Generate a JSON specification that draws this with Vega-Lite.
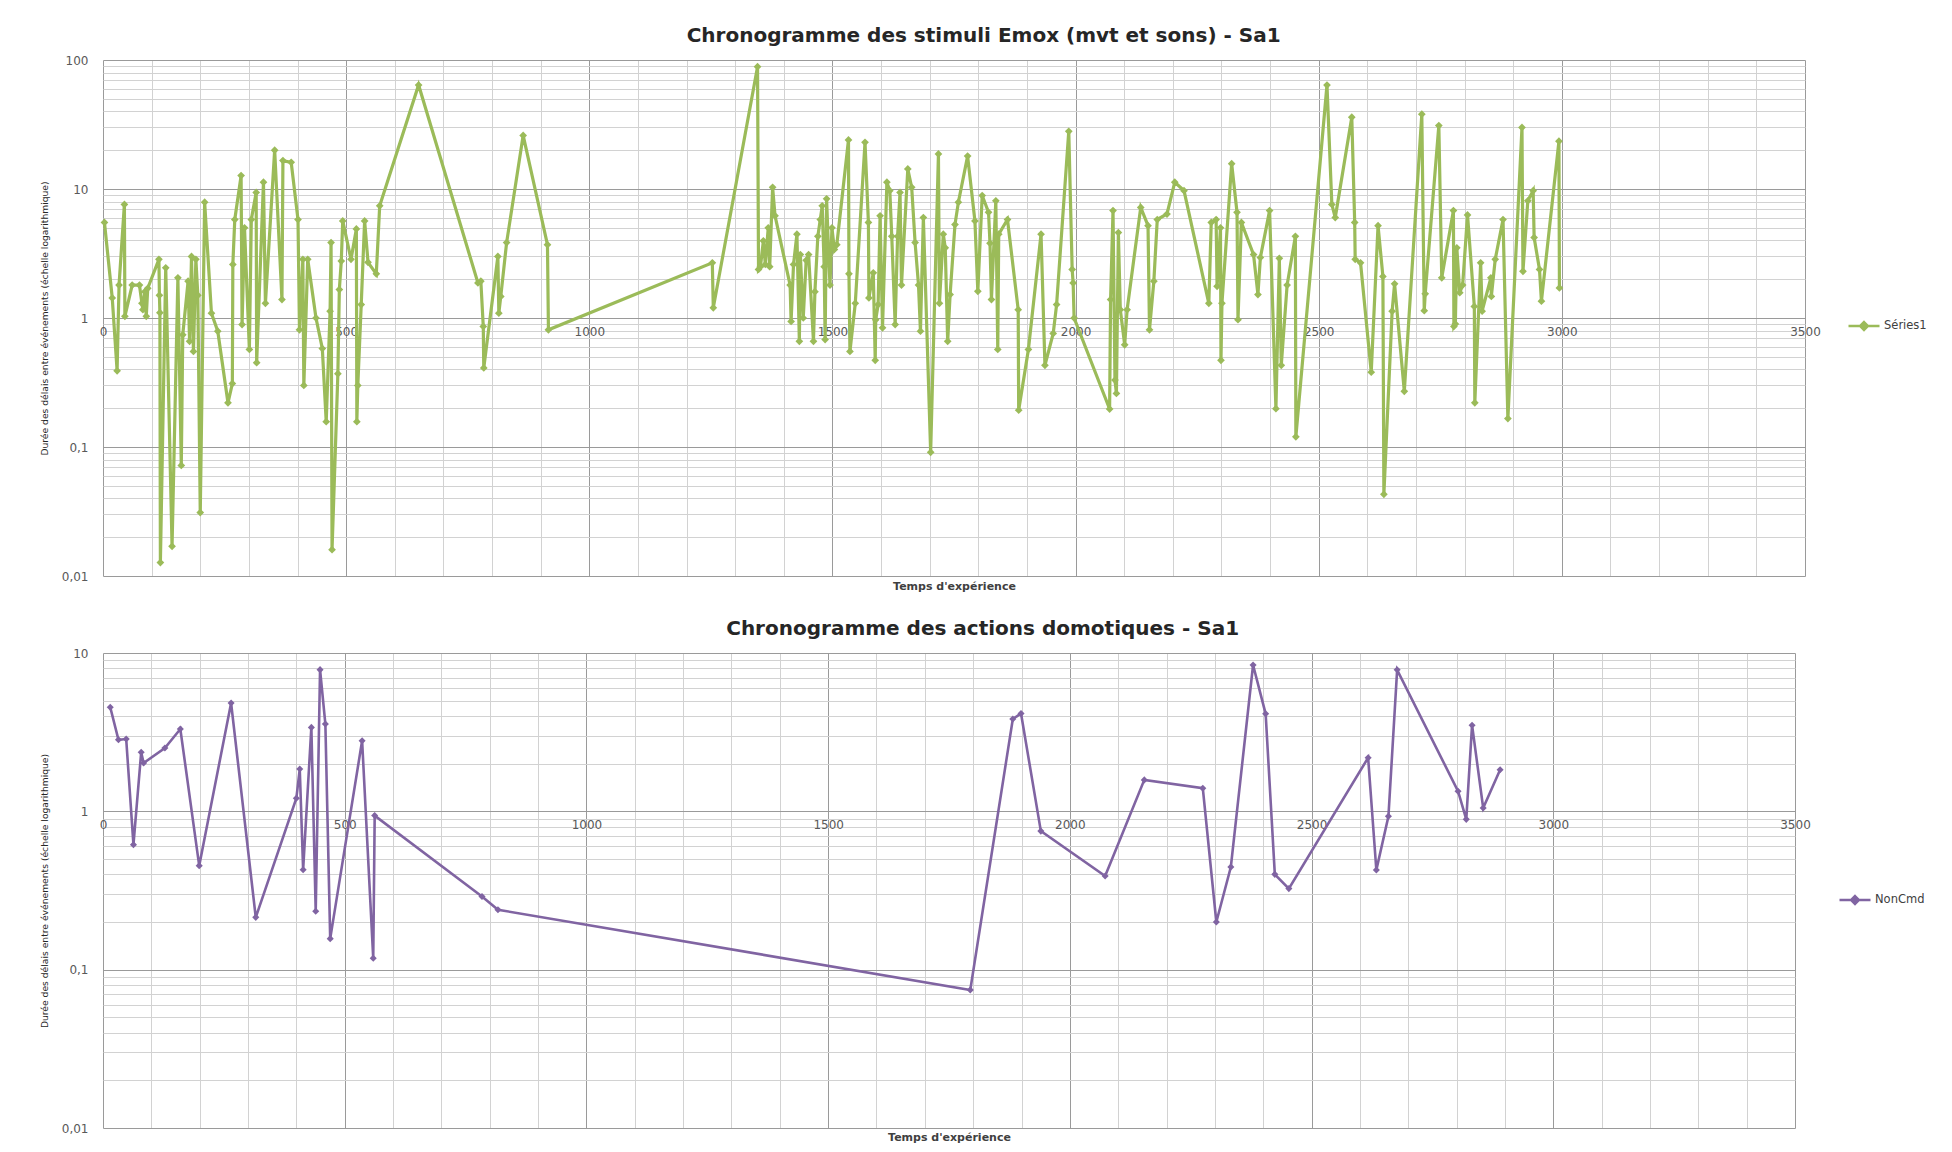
{
  "$schema": "https://vega.github.io/schema/vega-lite/v6.json",
  "background": "white",
  "padding": {"left": 40, "top": 26, "right": 20, "bottom": 4},
  "spacing": 28,
  "config": {
    "view": {"stroke": null},
    "font": "DejaVu Sans",
    "legend": {"padding": 0}
  },
  "datasets": {
    "emox": [
      {"t":3,"v":5.5},{"t":19,"v":1.43},{"t":29,"v":0.39},{"t":33,"v":1.8},{"t":44,"v":7.6},{"t":45,"v":1.03},{"t":60,"v":1.8},{"t":75,"v":1.8},{"t":80,"v":1.3},{"t":82,"v":1.16},{"t":86,"v":1.6},{"t":89,"v":1.03},{"t":92,"v":1.7},{"t":115,"v":2.85},{"t":116,"v":1.5},{"t":117,"v":1.1},{"t":118,"v":0.0127},{"t":129,"v":2.45},{"t":142,"v":0.017},{"t":154,"v":2.05},{"t":161,"v":0.072},{"t":164,"v":0.74},{"t":175,"v":1.93},{"t":178,"v":0.66},{"t":182,"v":3.0},{"t":186,"v":0.55},{"t":191,"v":2.85},{"t":195,"v":1.5},{"t":200,"v":0.031},{"t":209,"v":7.9},{"t":223,"v":1.09},{"t":236,"v":0.79},{"t":257,"v":0.22},{"t":266,"v":0.31},{"t":267,"v":2.6},{"t":271,"v":5.8},{"t":284,"v":12.7},{"t":286,"v":0.89},{"t":291,"v":5.0},{"t":301,"v":0.57},{"t":305,"v":5.8},{"t":315,"v":9.4},{"t":316,"v":0.45},{"t":330,"v":11.3},{"t":334,"v":1.3},{"t":353,"v":20},{"t":368,"v":1.39},{"t":370,"v":16.6},{"t":387,"v":16.1},{"t":401,"v":5.8},{"t":404,"v":0.81},{"t":411,"v":2.85},{"t":413,"v":0.30},{"t":421,"v":2.85},{"t":438,"v":1.0},{"t":451,"v":0.58},{"t":459,"v":0.157},{"t":467,"v":1.13},{"t":469,"v":3.84},{"t":471,"v":0.016},{"t":483,"v":0.37},{"t":486,"v":1.66},{"t":490,"v":2.76},{"t":493,"v":5.66},{"t":510,"v":2.85},{"t":521,"v":4.9},{"t":522,"v":0.157},{"t":524,"v":0.30},{"t":531,"v":1.27},{"t":538,"v":5.66},{"t":545,"v":2.7},{"t":562,"v":2.2},{"t":569,"v":7.4},{"t":649,"v":64},{"t":771,"v":1.87},{"t":777,"v":1.93},{"t":782,"v":0.86},{"t":783,"v":0.41},{"t":812,"v":3.0},{"t":814,"v":1.09},{"t":818,"v":1.47},{"t":830,"v":3.84},{"t":864,"v":26},{"t":914,"v":3.7},{"t":916,"v":0.81},{"t":1253,"v":2.68},{"t":1255,"v":1.2},{"t":1346,"v":88.7},{"t":1348,"v":2.38},{"t":1352,"v":2.5},{"t":1358,"v":3.97},{"t":1362,"v":2.6},{"t":1368,"v":5.0},{"t":1371,"v":2.5},{"t":1377,"v":10.3},{"t":1382,"v":6.2},{"t":1413,"v":1.8},{"t":1415,"v":0.94},{"t":1420,"v":2.6},{"t":1427,"v":4.46},{"t":1432,"v":0.66},{"t":1434,"v":3.1},{"t":1440,"v":1.0},{"t":1446,"v":2.8},{"t":1451,"v":3.1},{"t":1461,"v":0.66},{"t":1464,"v":1.6},{"t":1470,"v":4.3},{"t":1475,"v":5.8},{"t":1479,"v":7.4},{"t":1483,"v":2.5},{"t":1485,"v":0.68},{"t":1488,"v":8.4},{"t":1492,"v":3.3},{"t":1495,"v":1.8},{"t":1499,"v":5.0},{"t":1504,"v":3.4},{"t":1509,"v":3.7},{"t":1533,"v":24},{"t":1534,"v":2.2},{"t":1536,"v":0.55},{"t":1547,"v":1.3},{"t":1567,"v":23},{"t":1574,"v":5.5},{"t":1575,"v":1.43},{"t":1584,"v":2.24},{"t":1588,"v":0.47},{"t":1589,"v":0.97},{"t":1594,"v":1.27},{"t":1598,"v":6.2},{"t":1603,"v":0.84},{"t":1612,"v":11.3},{"t":1618,"v":9.7},{"t":1622,"v":4.3},{"t":1629,"v":0.89},{"t":1634,"v":4.3},{"t":1639,"v":9.4},{"t":1642,"v":1.8},{"t":1655,"v":14.3},{"t":1663,"v":10.3},{"t":1670,"v":3.84},{"t":1677,"v":1.8},{"t":1681,"v":0.79},{"t":1687,"v":6.0},{"t":1702,"v":0.091},{"t":1718,"v":18.7},{"t":1720,"v":1.3},{"t":1728,"v":4.46},{"t":1732,"v":3.5},{"t":1737,"v":0.66},{"t":1742,"v":1.52},{"t":1752,"v":5.3},{"t":1759,"v":7.9},{"t":1778,"v":18},{"t":1793,"v":5.66},{"t":1799,"v":1.61},{"t":1808,"v":8.9},{"t":1821,"v":6.6},{"t":1824,"v":3.8},{"t":1827,"v":1.39},{"t":1836,"v":8.1},{"t":1840,"v":0.57},{"t":1842,"v":4.46},{"t":1860,"v":5.8},{"t":1882,"v":1.16},{"t":1883,"v":0.193},{"t":1903,"v":0.57},{"t":1929,"v":4.46},{"t":1937,"v":0.43},{"t":1954,"v":0.76},{"t":1961,"v":1.27},{"t":1986,"v":28},{"t":1993,"v":2.38},{"t":1995,"v":1.87},{"t":1997,"v":1.0},{"t":2070,"v":0.197},{"t":2072,"v":1.39},{"t":2077,"v":6.8},{"t":2081,"v":0.33},{"t":2084,"v":0.26},{"t":2088,"v":4.6},{"t":2092,"v":1.16},{"t":2101,"v":0.62},{"t":2106,"v":1.16},{"t":2134,"v":7.2},{"t":2149,"v":5.2},{"t":2152,"v":0.81},{"t":2161,"v":1.93},{"t":2168,"v":5.8},{"t":2188,"v":6.4},{"t":2204,"v":11.3},{"t":2223,"v":9.7},{"t":2274,"v":1.3},{"t":2279,"v":5.5},{"t":2289,"v":5.8},{"t":2291,"v":1.76},{"t":2298,"v":5.0},{"t":2299,"v":0.47},{"t":2301,"v":1.3},{"t":2321,"v":15.7},{"t":2332,"v":6.6},{"t":2334,"v":0.97},{"t":2341,"v":5.5},{"t":2366,"v":3.1},{"t":2375,"v":1.52},{"t":2380,"v":2.94},{"t":2399,"v":6.8},{"t":2412,"v":0.198},{"t":2419,"v":2.9},{"t":2423,"v":0.43},{"t":2435,"v":1.8},{"t":2452,"v":4.3},{"t":2453,"v":0.12},{"t":2517,"v":64},{"t":2527,"v":7.6},{"t":2534,"v":6.0},{"t":2568,"v":36},{"t":2574,"v":5.5},{"t":2575,"v":2.85},{"t":2586,"v":2.68},{"t":2608,"v":0.38},{"t":2622,"v":5.2},{"t":2632,"v":2.1},{"t":2634,"v":0.043},{"t":2651,"v":1.13},{"t":2656,"v":1.84},{"t":2676,"v":0.27},{"t":2712,"v":38},{"t":2717,"v":1.14},{"t":2719,"v":1.54},{"t":2747,"v":31},{"t":2753,"v":2.05},{"t":2777,"v":6.8},{"t":2778,"v":0.86},{"t":2781,"v":0.9},{"t":2784,"v":3.5},{"t":2790,"v":1.57},{"t":2796,"v":1.8},{"t":2806,"v":6.3},{"t":2820,"v":1.23},{"t":2821,"v":0.22},{"t":2833,"v":2.68},{"t":2836,"v":1.13},{"t":2854,"v":2.05},{"t":2855,"v":1.47},{"t":2863,"v":2.85},{"t":2879,"v":5.8},{"t":2889,"v":0.166},{"t":2918,"v":30},{"t":2920,"v":2.3},{"t":2930,"v":8.1},{"t":2941,"v":9.7},{"t":2943,"v":4.2},{"t":2954,"v":2.38},{"t":2958,"v":1.35},{"t":2994,"v":23.5},{"t":2995,"v":1.71}
    ],
    "domo": [
      {"t":15,"v":4.54},{"t":32,"v":2.83},{"t":48,"v":2.86},{"t":63,"v":0.616},{"t":79,"v":2.36},{"t":84,"v":2.02},{"t":128,"v":2.51},{"t":160,"v":3.31},{"t":199,"v":0.454},{"t":265,"v":4.83},{"t":316,"v":0.214},{"t":400,"v":1.21},{"t":407,"v":1.85},{"t":414,"v":0.428},{"t":431,"v":3.39},{"t":440,"v":0.234},{"t":449,"v":7.85},{"t":460,"v":3.56},{"t":470,"v":0.157},{"t":536,"v":2.79},{"t":559,"v":0.118},{"t":562,"v":0.94},{"t":784,"v":0.29},{"t":817,"v":0.239},{"t":1794,"v":0.0745},{"t":1882,"v":3.83},{"t":1899,"v":4.15},{"t":1940,"v":0.75},{"t":2073,"v":0.39},{"t":2154,"v":1.58},{"t":2275,"v":1.40},{"t":2303,"v":0.2},{"t":2333,"v":0.445},{"t":2379,"v":8.4},{"t":2405,"v":4.13},{"t":2424,"v":0.40},{"t":2453,"v":0.325},{"t":2617,"v":2.18},{"t":2634,"v":0.426},{"t":2659,"v":0.93},{"t":2677,"v":7.83},{"t":2803,"v":1.34},{"t":2820,"v":0.89},{"t":2832,"v":3.5},{"t":2855,"v":1.05},{"t":2890,"v":1.83}
    ]
  },
  "vconcat": [
    {
      "width": 1702,
      "height": 516,
      "title": {"text": "Chronogramme des stimuli Emox (mvt et sons) - Sa1", "frame": "bounds", "anchor": "middle", "font": "DejaVu Sans", "fontSize": 20, "fontWeight": "bold", "color": "#262626", "offset": 8},
      "data": {"name": "emox"},
      "encoding": {
        "x": {
          "field": "t", "type": "quantitative",
          "scale": {"domain": [0, 3500], "nice": false, "zero": false},
          "axis": {
            "values": [0,100,200,300,400,500,600,700,800,900,1000,1100,1200,1300,1400,1500,1600,1700,1800,1900,2000,2100,2200,2300,2400,2500,2600,2700,2800,2900,3000,3100,3200,3300,3400,3500],
            "labelExpr": "datum.value % 500 === 0 ? '' + datum.value : ''",
            "offset": -258,
            "domain": false, "ticks": false,
            "labelPadding": 8, "labelFont": "DejaVu Sans", "labelFontSize": 12, "labelColor": "#595959",
            "labelFlush": false, "labelOverlap": false,
            "grid": true, "gridWidth": 1,
            "gridColor": {"condition": {"test": "datum.value % 500 === 0", "value": "#9a9a9a"}, "value": "#d2d2d2"},
            "title": "Temps d'expérience", "titleFont": "DejaVu Sans", "titleFontSize": 11, "titleFontWeight": "bold", "titleColor": "#404040",
            "titleY": 262
          }
        },
        "y": {
          "field": "v", "type": "quantitative",
          "scale": {"type": "log", "domain": [0.01, 100], "nice": false},
          "axis": {
            "values": [0.01,0.02,0.03,0.04,0.05,0.06,0.07,0.08,0.09,0.1,0.2,0.3,0.4,0.5,0.6,0.7,0.8,0.9,1,2,3,4,5,6,7,8,9,10,20,30,40,50,60,70,80,90,100],
            "labelExpr": "datum.value == 0.01 ? '0,01' : datum.value == 0.1 ? '0,1' : (datum.value == 1 || datum.value == 10 || datum.value == 100) ? '' + datum.value : ''",
            "domain": false, "ticks": false,
            "labelPadding": 15, "labelFont": "DejaVu Sans", "labelFontSize": 12, "labelColor": "#595959",
            "labelFlush": false, "labelOverlap": false,
            "grid": true, "gridWidth": 1,
            "gridColor": {"condition": {"test": "datum.value == 0.01 || datum.value == 0.1 || datum.value == 1 || datum.value == 10 || datum.value == 100", "value": "#9a9a9a"}, "value": "#d2d2d2"},
            "title": "Durée des délais entre événements (échelle logarithmique)", "titleFont": "DejaVu Sans", "titleFontSize": 9.2, "titleFontWeight": "normal", "titleColor": "#262626", "titlePadding": 12
          }
        },
        "color": {
          "datum": "Séries1",
          "scale": {"range": ["#9BBB59"]},
          "legend": {
            "title": null, "orient": "none", "legendX": 1744, "legendY": 249,
            "symbolType": "M-1,0H1M0,-0.25L0.25,0L0,0.25L-0.25,0Z",
            "symbolSize": 961, "symbolStrokeWidth": 2.5, "symbolFillColor": "#9BBB59", "symbolStrokeColor": "#9BBB59",
            "labelFont": "DejaVu Sans", "labelFontSize": 11.5, "labelColor": "#404040", "labelOffset": 3
          }
        }
      },
      "layer": [
        {"mark": {"type": "line", "strokeWidth": 3.2}},
        {"mark": {"type": "point", "shape": "diamond", "filled": true, "size": 60, "opacity": 1}}
      ]
    },
    {
      "width": 1692,
      "height": 475,
      "title": {"text": "Chronogramme des actions domotiques - Sa1", "frame": "bounds", "anchor": "middle", "font": "DejaVu Sans", "fontSize": 20, "fontWeight": "bold", "color": "#262626", "offset": 8},
      "data": {"name": "domo"},
      "encoding": {
        "x": {
          "field": "t", "type": "quantitative",
          "scale": {"domain": [0, 3500], "nice": false, "zero": false},
          "axis": {
            "values": [0,100,200,300,400,500,600,700,800,900,1000,1100,1200,1300,1400,1500,1600,1700,1800,1900,2000,2100,2200,2300,2400,2500,2600,2700,2800,2900,3000,3100,3200,3300,3400,3500],
            "labelExpr": "datum.value % 500 === 0 ? '' + datum.value : ''",
            "offset": -317,
            "domain": false, "ticks": false,
            "labelPadding": 8, "labelFont": "DejaVu Sans", "labelFontSize": 12, "labelColor": "#595959",
            "labelFlush": false, "labelOverlap": false,
            "grid": true, "gridWidth": 1,
            "gridColor": {"condition": {"test": "datum.value % 500 === 0", "value": "#9a9a9a"}, "value": "#d2d2d2"},
            "title": "Temps d'expérience", "titleFont": "DejaVu Sans", "titleFontSize": 11, "titleFontWeight": "bold", "titleColor": "#404040",
            "titleY": 320
          }
        },
        "y": {
          "field": "v", "type": "quantitative",
          "scale": {"type": "log", "domain": [0.01, 10], "nice": false},
          "axis": {
            "values": [0.01,0.02,0.03,0.04,0.05,0.06,0.07,0.08,0.09,0.1,0.2,0.3,0.4,0.5,0.6,0.7,0.8,0.9,1,2,3,4,5,6,7,8,9,10],
            "labelExpr": "datum.value == 0.01 ? '0,01' : datum.value == 0.1 ? '0,1' : (datum.value == 1 || datum.value == 10) ? '' + datum.value : ''",
            "domain": false, "ticks": false,
            "labelPadding": 15, "labelFont": "DejaVu Sans", "labelFontSize": 12, "labelColor": "#595959",
            "labelFlush": false, "labelOverlap": false,
            "grid": true, "gridWidth": 1,
            "gridColor": {"condition": {"test": "datum.value == 0.01 || datum.value == 0.1 || datum.value == 1 || datum.value == 10", "value": "#9a9a9a"}, "value": "#d2d2d2"},
            "title": "Durée des délais entre événements (échelle logarithmique)", "titleFont": "DejaVu Sans", "titleFontSize": 9.2, "titleFontWeight": "normal", "titleColor": "#262626", "titlePadding": 12
          }
        },
        "color": {
          "datum": "NonCmd",
          "scale": {"range": ["#8064A2"]},
          "legend": {
            "title": null, "orient": "none", "legendX": 1735, "legendY": 230,
            "symbolType": "M-1,0H1M0,-0.25L0.25,0L0,0.25L-0.25,0Z",
            "symbolSize": 961, "symbolStrokeWidth": 2.5, "symbolFillColor": "#8064A2", "symbolStrokeColor": "#8064A2",
            "labelFont": "DejaVu Sans", "labelFontSize": 11.5, "labelColor": "#404040", "labelOffset": 3
          }
        }
      },
      "layer": [
        {"mark": {"type": "line", "strokeWidth": 2.6}},
        {"mark": {"type": "point", "shape": "diamond", "filled": true, "size": 50, "opacity": 1}}
      ]
    }
  ],
  "resolve": {"scale": {"color": "independent", "x": "independent", "y": "independent"}}
}
